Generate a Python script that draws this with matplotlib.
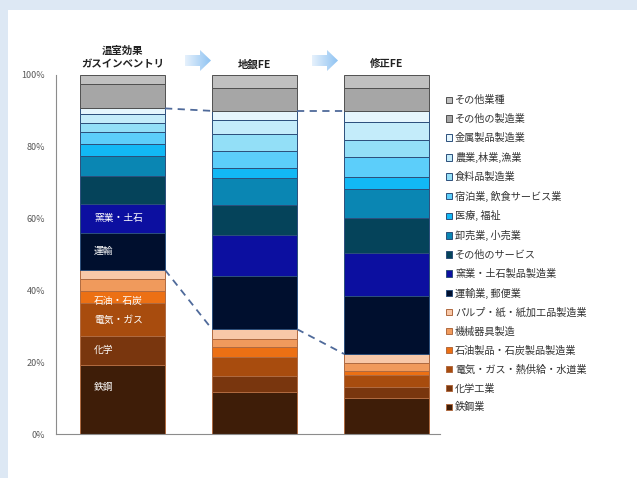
import matplotlib
matplotlib.use('Agg')
import matplotlib.pyplot as plt
from matplotlib.patches import Rectangle, Polygon
import numpy as np

plt.rcParams['font.family'] = ['Noto Sans CJK JP', 'DejaVu Sans']

# column headers
columns = ['温室効果\nガスインベントリ', '地銀FE', '修正FE']

# sectors, bottom to top
sectors = ['鉄鋼業', '化学工業', '電気・ガス・熱供給・水道業', '石油製品・石炭製品製造業',
           '機械器具製造', 'パルプ・紙・紙加工品製造業', '運輸業, 郵便業', '窯業・土石製品製造業',
           'その他のサービス', '卸売業, 小売業', '医療, 福祉', '宿泊業, 飲食サービス業',
           '食料品製造業', '農業,林業,漁業', '金属製品製造業', 'その他の製造業', 'その他業種']

# shares (%) per column, bottom to top
inventory = [19.2, 8.2, 9.0, 3.4, 3.3, 2.6, 10.4, 7.9, 7.9, 5.5, 3.4, 3.4, 2.5, 2.4, 1.6, 6.7, 2.6]
bank_fe = [11.7, 4.5, 5.3, 2.6, 2.3, 2.8, 14.9, 11.3, 8.4, 7.6, 2.8, 4.7, 4.6, 4.0, 2.5, 6.3, 3.7]
revised_fe = [9.9, 3.3, 3.2, 1.1, 2.2, 2.6, 16.1, 12.1, 9.8, 7.9, 3.5, 5.4, 4.8, 4.9, 3.2, 6.3, 3.7]

# labels written inside the first bar
inner_labels = {0: '鉄鋼', 1: '化学', 2: '電気・ガス', 3: '石油・石炭', 6: '運輸', 7: '窯業・土石'}

colors = ['#3e1d08', '#79360e', '#a84c0e', '#ec7014', '#f09a5c', '#f8c8a8',
          '#000f2e', '#0c0fa0', '#05435a', '#0a86b3', '#12b8f5', '#5ccefa',
          '#93dff7', '#c4ecfa', '#e6f6fd', '#a6a6a6', '#c0c0c0']
edges = ['#b06a40'] * 6 + ['#2c4f7c'] * 9 + ['#505050'] * 2

fig = plt.figure(figsize=(6.37, 4.78), dpi=100)
fig.patch.set_facecolor('#dde8f4')
fig.add_artist(Rectangle((8 / 637, 0), 1, 468 / 478, transform=fig.transFigure,
                         facecolor='white', edgecolor='none', zorder=-5))

ax = fig.add_axes([56 / 637, 44 / 478, 384 / 637, 359 / 478])
ax.set_facecolor('none')
ax.set_zorder(2)

data = np.array([inventory, bank_fe, revised_fe])
x = np.arange(3)
w = 0.644
bottoms = np.zeros(3)
handles = []
for i, name in enumerate(sectors):
    b = ax.bar(x, data[:, i], w, bottom=bottoms, color=colors[i],
               edgecolor=edges[i], linewidth=0.7, label=name)
    handles.append(b)
    if i in inner_labels:
        yy = bottoms[0] + data[0, i] * (0.68 if i == 0 else 0.5)
        if i == 3:
            yy = bottoms[0] + data[0, i] * 0.2
        ax.text(-0.215, yy, inner_labels[i], color='white', fontsize=7,
                ha='left', va='center')
    bottoms += data[:, i]

cum = np.cumsum(data, axis=1)
# dashed connectors: top of pulp (index 5) and top of metal products (index 14)
for k in [5, 14]:
    for c in range(2):
        ax.plot([c + w / 2, c + 1 - w / 2], [cum[c, k], cum[c + 1, k]],
                color='#4f6a9a', linestyle=(0, (4, 3)), linewidth=1.3)

ax.set_xlim(-0.504, 2.405)
ax.set_ylim(0, 100)
ax.set_yticks(np.arange(0, 101, 20))
ax.set_yticklabels([f'{v}%' for v in range(0, 101, 20)], fontsize=6.5, color='#595959')
ax.set_xticks([])
ax.tick_params(axis='y', length=0, pad=8)
for s in ['top', 'right']:
    ax.spines[s].set_visible(False)
for s in ['left', 'bottom']:
    ax.spines[s].set_color('#8c8c8c')

# headers
for xi, txt in zip(x, columns):
    ax.text(xi, 101.6, txt, ha='center', va='bottom', fontsize=7.5,
            fontweight='bold', color='#222222', linespacing=1.45, clip_on=False)

# gradient arrows between headers, drawn on an overlay axes in pixel units
ov = fig.add_axes([0, 0, 1, 1], zorder=3)
ov.set_xlim(0, 637)
ov.set_ylim(478, 0)
ov.axis('off')
ov.patch.set_alpha(0)
grad = np.linspace(0, 1, 64).reshape(1, -1)
cmap = matplotlib.colors.LinearSegmentedColormap.from_list('arr', ['#e6f1fc', '#8fc3f2'])


def arrow(x0):
    pts = [(x0, 55), (x0 + 15, 55), (x0 + 15, 50), (x0 + 26, 60.5),
           (x0 + 15, 71), (x0 + 15, 66), (x0, 66)]
    poly = Polygon(pts, closed=True, facecolor='none', edgecolor='none')
    ov.add_patch(poly)
    im = ov.imshow(grad, cmap=cmap, extent=(x0, x0 + 26, 71, 50), aspect='auto')
    im.set_clip_path(poly)


arrow(185)
arrow(312)
ov.set_xlim(0, 637)
ov.set_ylim(478, 0)

leg = ax.legend(handles[::-1], sectors[::-1], loc='upper left',
                bbox_to_anchor=(1.005, 0.955), frameon=False, fontsize=7.3,
                handlelength=0.6, handleheight=0.6, handletextpad=0.3,
                labelspacing=0.86, borderaxespad=0)
for t in leg.get_texts():
    t.set_color('#333333')

fig.savefig('out.png', dpi=100, facecolor=fig.get_facecolor())
